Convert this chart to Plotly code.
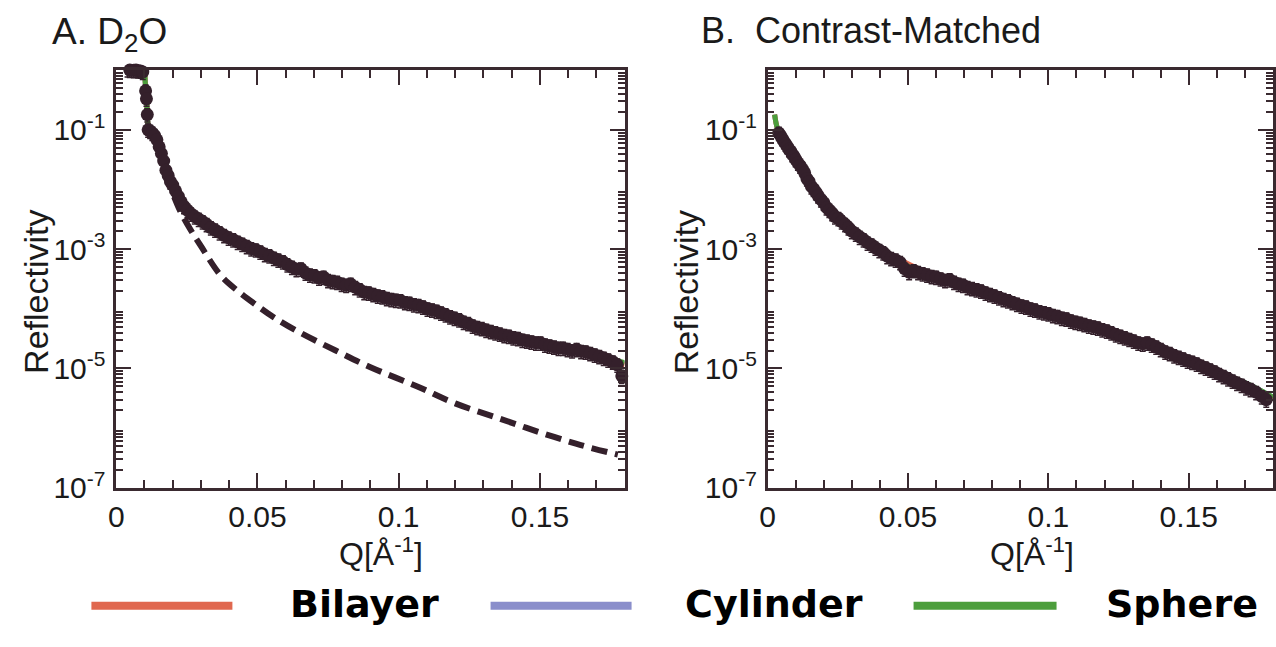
import plotly.graph_objects as go

W, H = 1276, 647

# ---------------- Panel A: D2O ----------------
qA = [0.0040, 0.0048, 0.0055, 0.0062, 0.0070, 0.0078, 0.0086, 0.0094,
      0.0104, 0.0107, 0.0110, 0.0113,
      0.0120, 0.0128, 0.0136, 0.0144, 0.0152, 0.0160, 0.0168, 0.0176, 0.0184, 0.0192,
      0.0200, 0.0210, 0.0220, 0.0230, 0.0240, 0.0252, 0.0265, 0.0278, 0.0292, 0.0306,
      0.0320, 0.0335, 0.0350, 0.0366, 0.0382, 0.0398, 0.0414, 0.0430, 0.0446, 0.0462,
      0.0478, 0.0494, 0.0510, 0.0526, 0.0542, 0.0558, 0.0574, 0.0590, 0.0606, 0.0622,
      0.0638, 0.0654, 0.0670, 0.0686, 0.0702, 0.0718, 0.0734, 0.0750, 0.0766, 0.0782,
      0.0798, 0.0814, 0.0830, 0.0846, 0.0862, 0.0878, 0.0894, 0.0910, 0.0926, 0.0942,
      0.0958, 0.0974, 0.0990, 0.1006, 0.1022, 0.1038, 0.1054, 0.1070, 0.1086, 0.1102,
      0.1118, 0.1134, 0.1150, 0.1166, 0.1182, 0.1198, 0.1214, 0.1230, 0.1246, 0.1262,
      0.1278, 0.1294, 0.1310, 0.1326, 0.1342, 0.1358, 0.1374, 0.1390, 0.1406, 0.1422,
      0.1438, 0.1454, 0.1470, 0.1486, 0.1502, 0.1518, 0.1534, 0.1550, 0.1566, 0.1582,
      0.1598, 0.1614, 0.1630, 0.1646, 0.1662, 0.1678, 0.1694, 0.1710, 0.1726, 0.1742,
      0.1758, 0.1774, 0.1790]
rA = [1.02, 1.00, 1.01, 0.99, 1.00, 0.98, 0.97, 0.93,
      0.45, 0.33, 0.18, 0.10,
      0.095, 0.088, 0.080, 0.068, 0.052, 0.040, 0.030, 0.021, 0.017, 0.0135,
      0.0118, 0.0095, 0.0077, 0.0062, 0.0052, 0.0045, 0.0039, 0.0035, 0.0032, 0.0029,
      0.0026, 0.0023, 0.0021, 0.0019, 0.0017, 0.00155, 0.00145, 0.00132, 0.00122, 0.00112,
      0.00102, 0.00098, 0.00090, 0.00082, 0.00078, 0.00071, 0.00066, 0.00062, 0.00055, 0.00050,
      0.00046, 0.00047, 0.00040, 0.00037, 0.00036, 0.00033, 0.00034, 0.00030, 0.00029, 0.00028,
      0.00026, 0.00025, 0.00026, 0.00023, 0.00021, 0.00019, 0.000185, 0.000175, 0.000165, 0.000160,
      0.000150, 0.000145, 0.000140, 0.000138, 0.000128, 0.000125, 0.000118, 0.000115, 0.000108, 0.000100,
      0.000096, 0.000092, 0.000086, 0.000080, 0.000074, 0.000070, 0.000066, 0.000060, 0.000057, 0.000052,
      0.000049, 0.000047, 0.000044, 0.000042, 0.000040, 0.000038, 0.000036, 0.000035, 0.000033, 0.000032,
      0.000030, 0.000029, 0.000028, 0.000027, 0.000027, 0.000025, 0.000024, 0.000023, 0.000022, 0.000022,
      0.000021, 0.000020, 0.000021, 0.0000195, 0.000019, 0.000018, 0.000017, 0.000016, 0.000015, 0.000014,
      0.000013, 0.0000115, 0.0000075]

qA_fresnel = [0.0205, 0.0226, 0.026, 0.030, 0.037, 0.043, 0.050, 0.056, 0.065, 0.0777,
              0.090, 0.1066, 0.120, 0.1357, 0.150, 0.1645, 0.1776]
rA_fresnel = [0.0075, 0.0044, 0.00224, 0.00112, 0.000363, 0.000200, 0.000112, 0.000071, 0.000040, 0.000020,
              0.0000105, 0.0000050, 0.0000026, 0.00000145, 0.00000085, 0.00000052, 0.00000036]

qA_fit = [0.004, 0.0095, 0.0103, 0.0108, 0.0113, 0.012, 0.014, 0.016, 0.018, 0.020, 0.022, 0.025,
          0.030, 0.035, 0.040, 0.050, 0.060, 0.070, 0.080, 0.090, 0.100, 0.110, 0.120, 0.130,
          0.140, 0.150, 0.160, 0.170, 0.180]
rA_sphere = [1.0, 1.0, 0.6, 0.3, 0.12, 0.094, 0.066, 0.040, 0.020, 0.0118, 0.0077, 0.0047,
             0.0030, 0.0022, 0.00160, 0.00092, 0.00056, 0.00037, 0.00027, 0.000188, 0.000140, 0.000101, 0.000071, 0.000050,
             0.000037, 0.000029, 0.0000225, 0.0000170, 0.0000125]
rA_bilayer = [1.0, 1.0, 0.6, 0.3, 0.12, 0.094, 0.066, 0.040, 0.020, 0.0118, 0.0077, 0.0047,
              0.0030, 0.0022, 0.00158, 0.00091, 0.00056, 0.00037, 0.00027, 0.000186, 0.000139, 0.000100, 0.000070, 0.000049,
              0.000036, 0.000028, 0.0000215, 0.0000160, 0.0000115]
rA_cylinder = [1.0, 1.0, 0.6, 0.3, 0.12, 0.094, 0.066, 0.040, 0.020, 0.0118, 0.0077, 0.0047,
               0.0030, 0.0022, 0.00159, 0.00092, 0.00056, 0.00037, 0.00027, 0.000187, 0.000139, 0.000100, 0.000070, 0.000049,
               0.000036, 0.0000285, 0.000022, 0.0000165, 0.0000120]

# ---------------- Panel B: Contrast-Matched ----------------
qB = [0.0040, 0.0046, 0.0052, 0.0058, 0.0064, 0.0070, 0.0076, 0.0082, 0.0088, 0.0094,
      0.0100, 0.0108, 0.0116, 0.0124, 0.0132, 0.0140, 0.0148, 0.0156, 0.0164, 0.0172,
      0.0180, 0.0190, 0.0200, 0.0210, 0.0220, 0.0230, 0.0240, 0.0252, 0.0264, 0.0276,
      0.0288, 0.0300, 0.0314, 0.0328, 0.0342, 0.0356, 0.0370, 0.0384, 0.0398, 0.0412,
      0.0426, 0.0440, 0.0456, 0.0472, 0.0488, 0.0504, 0.0520, 0.0536, 0.0552, 0.0568,
      0.0584, 0.0600, 0.0616, 0.0632, 0.0648, 0.0664, 0.0680, 0.0696, 0.0712, 0.0728,
      0.0744, 0.0760, 0.0776, 0.0792, 0.0808, 0.0824, 0.0840, 0.0856, 0.0872, 0.0888,
      0.0904, 0.0920, 0.0936, 0.0952, 0.0968, 0.0984, 0.1000, 0.1016, 0.1032, 0.1048,
      0.1064, 0.1080, 0.1096, 0.1112, 0.1128, 0.1144, 0.1160, 0.1176, 0.1192, 0.1208,
      0.1224, 0.1240, 0.1256, 0.1272, 0.1288, 0.1304, 0.1320, 0.1336, 0.1352, 0.1368,
      0.1384, 0.1400, 0.1416, 0.1432, 0.1448, 0.1464, 0.1480, 0.1496, 0.1512, 0.1528,
      0.1544, 0.1560, 0.1576, 0.1592, 0.1608, 0.1624, 0.1640, 0.1656, 0.1672, 0.1688,
      0.1704, 0.1720, 0.1740, 0.1760, 0.1776]
rB = [0.088, 0.080, 0.072, 0.064, 0.058, 0.053, 0.047, 0.044, 0.039, 0.036,
      0.032, 0.028, 0.025, 0.022, 0.019, 0.0152, 0.0135, 0.0112, 0.0102, 0.0090,
      0.0079, 0.0068, 0.0060, 0.0050, 0.0045, 0.0040, 0.0035, 0.0033, 0.0029, 0.0026,
      0.0023, 0.0020, 0.0018, 0.0016, 0.00145, 0.00128, 0.00118, 0.00105, 0.00096, 0.00088,
      0.00076, 0.00070, 0.00066, 0.00060, 0.00047, 0.00041, 0.00044, 0.00041, 0.00039, 0.00037,
      0.00035, 0.00034, 0.00032, 0.00030, 0.00031, 0.00028, 0.00026, 0.00025, 0.00023, 0.00022,
      0.00021, 0.00020, 0.000185, 0.000175, 0.000165, 0.000155, 0.000145, 0.000138, 0.000128, 0.000120,
      0.000112, 0.000108, 0.000100, 0.000096, 0.000090, 0.000087, 0.000083, 0.000078, 0.000075, 0.000070,
      0.000068, 0.000063, 0.000060, 0.000058, 0.000055, 0.000052, 0.000050, 0.000048, 0.000045, 0.000043,
      0.000040, 0.000037, 0.000035, 0.000033, 0.000031, 0.000029, 0.000027, 0.000026, 0.000027, 0.000025,
      0.000023, 0.000021, 0.000019, 0.000018, 0.0000165, 0.0000155, 0.0000145, 0.0000135, 0.0000128, 0.0000120,
      0.0000110, 0.0000103, 0.0000095, 0.0000088, 0.0000080, 0.0000074, 0.0000068, 0.0000062, 0.0000057, 0.0000053,
      0.0000048, 0.0000045, 0.0000040, 0.0000034, 0.0000030]

qB_fit = [0.0025, 0.003, 0.0035, 0.004, 0.006, 0.008, 0.010, 0.012, 0.014, 0.016, 0.018, 0.020,
          0.025, 0.030, 0.035, 0.040, 0.045, 0.050, 0.055, 0.060, 0.070, 0.080, 0.090, 0.100,
          0.110, 0.120, 0.130, 0.140, 0.150, 0.160, 0.170, 0.180]
rB_sphere = [0.18, 0.13, 0.105, 0.092, 0.062, 0.045, 0.033, 0.0235, 0.0162, 0.0110, 0.0080, 0.0060,
             0.0034, 0.0021, 0.00138, 0.00096, 0.00072, 0.00052, 0.00040, 0.00034, 0.00025, 0.000175, 0.000118, 0.000084,
             0.000061, 0.000044, 0.000030, 0.000021, 0.0000135, 0.0000090, 0.0000058, 0.0000033]
rB_bilayer = [0.18, 0.13, 0.105, 0.092, 0.062, 0.045, 0.033, 0.0235, 0.0162, 0.0110, 0.0080, 0.0060,
              0.0034, 0.0021, 0.00140, 0.00099, 0.00076, 0.00057, 0.00044, 0.00035, 0.00025, 0.000173, 0.000117, 0.000083,
              0.000060, 0.000043, 0.000030, 0.000021, 0.0000133, 0.0000089, 0.0000057, 0.0000032]
rB_cylinder = [0.18, 0.13, 0.105, 0.092, 0.062, 0.045, 0.033, 0.0235, 0.0162, 0.0110, 0.0080, 0.0060,
               0.0034, 0.0021, 0.00139, 0.00097, 0.00074, 0.00054, 0.00042, 0.00034, 0.00025, 0.000174, 0.000118, 0.000084,
               0.000060, 0.000044, 0.000030, 0.000021, 0.0000134, 0.0000090, 0.0000058, 0.0000033]

legend_names = ["Bilayer", "Cylinder", "Sphere"]
fit_colors = ["#e0684f", "#8a8ecb", "#4c9e3c"]
data_color = "#34202b"
axis_color = "#3a2a30"
y_label_vals = [1e-1, 1e-3, 1e-5, 1e-7]
y_label_text = ["10<sup>-1</sup>", "10<sup>-3</sup>", "10<sup>-5</sup>", "10<sup>-7</sup>"]
y_even_decades = [1, 1e-2, 1e-4, 1e-6]
x_tick_vals = [0, 0.05, 0.1, 0.15]
x_tick_text = ["0", "0.05", "0.1", "0.15"]

FONT = "Liberation Sans, Arial, Helvetica, sans-serif"

fig = go.Figure()


def add_panel(xa, ya, q_fit, fits, q_data, r_data, fresnel=None):
    for i in [1, 0, 2]:  # cylinder, bilayer, sphere (sphere on top)
        fig.add_trace(go.Scatter(x=q_fit, y=fits[i], mode="lines",
                                 line=dict(color=fit_colors[i], width=5, shape="spline"),
                                 xaxis=xa, yaxis=ya, showlegend=False, hoverinfo="skip"))
    if fresnel is not None:
        fig.add_trace(go.Scatter(x=fresnel[0], y=fresnel[1], mode="lines",
                                 line=dict(color=data_color, width=6, dash="16px,8px", shape="spline"),
                                 xaxis=xa, yaxis=ya, showlegend=False))
    fig.add_trace(go.Scatter(x=q_data, y=r_data, mode="markers",
                             marker=dict(color=data_color, size=13),
                             error_y=dict(type="percent", value=25, color=data_color, thickness=1.5, width=3),
                             xaxis=xa, yaxis=ya, showlegend=False, cliponaxis=False))


add_panel("x", "y", qA_fit, [rA_bilayer, rA_cylinder, rA_sphere], qA, rA, (qA_fresnel, rA_fresnel))
add_panel("x2", "y2", qB_fit, [rB_bilayer, rB_cylinder, rB_sphere], qB, rB)


def px(x):
    return x / W


def py(y):
    return 1 - y / H


y0, y1 = py(501), py(72)
minor_y = [m * 10.0 ** e for e in range(-7, 0) for m in range(2, 10)]

xcommon = dict(range=[0, 0.18], tickvals=x_tick_vals, ticktext=x_tick_text, ticks="inside", ticklen=15, tickwidth=2,
               tickcolor=axis_color, showline=True, linecolor=axis_color, linewidth=2.5, mirror="allticks",
               showgrid=False, zeroline=False, tickfont=dict(family=FONT, size=30, color="#1a1a1a"),
               minor=dict(dtick=0.01, ticks="inside", ticklen=8, tickwidth=2, tickcolor=axis_color, showgrid=False))
ycommon = dict(type="log", range=[-7, 0], tickvals=y_label_vals, ticktext=y_label_text, ticks="inside", ticklen=15,
               tickwidth=2, tickcolor=axis_color, showline=True, linecolor=axis_color, linewidth=2.5,
               mirror="allticks", showgrid=False, zeroline=False,
               tickfont=dict(family=FONT, size=30, color="#1a1a1a"), ticklabelstandoff=2,
               minor=dict(tickvals=minor_y, ticks="inside", ticklen=7, tickwidth=1.5, tickcolor=axis_color,
                          showgrid=False))
yeven = dict(type="log", range=[-7, 0], tickvals=y_even_decades, ticks="inside", ticklen=15, tickwidth=2,
             tickcolor=axis_color, showline=True, linecolor=axis_color, linewidth=2.5, mirror="ticks",
             showgrid=False, zeroline=False, showticklabels=False, side="left")

fig.update_layout(
    width=W, height=H, autosize=False,
    margin=dict(l=0, r=0, t=0, b=0),
    paper_bgcolor="white", plot_bgcolor="white",
    showlegend=False,
    xaxis=dict(domain=[px(109), px(621)], anchor="y", **xcommon),
    yaxis=dict(domain=[y0, y1], anchor="x", **ycommon),
    xaxis2=dict(domain=[px(765), px(1274)], anchor="y2", **xcommon),
    yaxis2=dict(domain=[y0, y1], anchor="x2", **ycommon),
    yaxis3=dict(overlaying="y", anchor="x", **yeven),
    yaxis4=dict(overlaying="y2", anchor="x2", **yeven),
)

annotations = [
    dict(text="A. D<sub>2</sub>O", x=px(42), y=py(35), xanchor="left", yanchor="middle",
         font=dict(family=FONT, size=37, color="#1a1a1a")),
    dict(text="B.  Contrast-Matched", x=px(696), y=py(31), xanchor="left", yanchor="middle",
         font=dict(family=FONT, size=36, color="#1a1a1a")),
    dict(text="Reflectivity", x=px(28), y=py(300), textangle=-90, xanchor="center", yanchor="middle",
         font=dict(family=FONT, size=34, color="#1a1a1a")),
    dict(text="Reflectivity", x=px(683), y=py(300), textangle=-90, xanchor="center", yanchor="middle",
         font=dict(family=FONT, size=34, color="#1a1a1a")),
    dict(text="Q[Å<sup>-1</sup>]", x=px(376), y=py(567), xanchor="center", yanchor="middle",
         font=dict(family=FONT, size=32, color="#1a1a1a")),
    dict(text="Q[Å<sup>-1</sup>]", x=px(1031), y=py(567), xanchor="center", yanchor="middle",
         font=dict(family=FONT, size=32, color="#1a1a1a")),
]

legend_line_x = [(84, 226), (486, 628), (912, 1056)]
legend_text_x = [282, 680, 1104]
shapes = []
for (xa, xb), tx, name, col in zip(legend_line_x, legend_text_x, legend_names, fit_colors):
    shapes.append(dict(type="line", xref="paper", yref="paper", x0=px(xa), x1=px(xb), y0=py(622), y1=py(622),
                       line=dict(color=col, width=8)))
    annotations.append(dict(text="<b>%s</b>" % name, x=px(tx), y=py(620), xanchor="left", yanchor="middle",
                            font=dict(family="DejaVu Sans", size=38, color="#000000")))

for a in annotations:
    a.update(xref="paper", yref="paper", showarrow=False)

fig.update_layout(annotations=annotations, shapes=shapes)

# remove the browser's default page margin so the figure fills the window exactly
fig.write_html("out.html", config={"displayModeBar": False},
               post_script="document.body.style.margin='0';document.body.style.overflow='hidden';")
